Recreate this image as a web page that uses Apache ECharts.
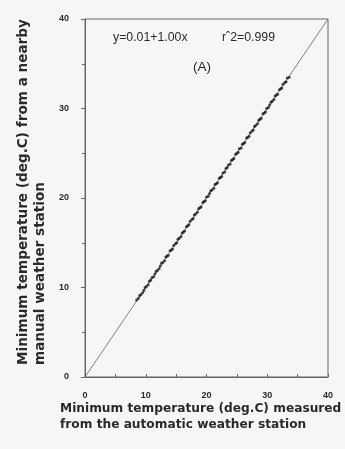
<!DOCTYPE html>
<html><head><meta charset="utf-8">
<script src="https://cdn.jsdelivr.net/npm/echarts@6/dist/echarts.min.js"></script>
<style>html,body{margin:0;padding:0;background:#f6f6f4}#c{width:345px;height:449px}</style>
</head><body><div id="c"></div>
<script>
// Data
const autoTemp = [8.5, 8.8, 9.0, 9.2, 9.5, 9.7, 9.9,
  10.1, 10.4, 10.6, 10.8, 11.0, 11.3, 11.5, 11.7, 11.9, 12.2, 12.4, 12.6, 12.8,
  13.1, 13.3, 13.5, 13.7, 14.0, 14.2, 14.4, 14.6, 14.9, 15.1, 15.3, 15.5, 15.8,
  16.0, 16.2, 16.4, 16.7, 16.9, 17.1, 17.3, 17.6, 17.8, 18.0, 18.2, 18.5, 18.7, 18.9,
  19.1, 19.4, 19.6, 19.8, 20.0, 20.3, 20.5, 20.7, 20.9, 21.2, 21.4, 21.6, 21.8,
  22.1, 22.3, 22.5, 22.7, 23.0, 23.2, 23.4, 23.6, 23.9, 24.1, 24.3, 24.5, 24.8,
  25.0, 25.2, 25.4, 25.7, 25.9, 26.1, 26.3, 26.6, 26.8, 27.0, 27.2, 27.5, 27.7, 27.9,
  28.1, 28.4, 28.6, 28.8, 29.0, 29.3, 29.5, 29.7, 29.9, 30.2, 30.4, 30.6, 30.8,
  31.1, 31.3, 31.5, 31.7, 32.0, 32.2, 32.4, 32.6, 32.9, 33.1, 33.3, 33.6];
const manualTemp = [8.6, 8.8, 9.1, 9.2, 9.4, 9.7, 10.0,
  10.1, 10.3, 10.7, 10.8, 11.1, 11.2, 11.5, 11.8, 11.9, 12.1, 12.4, 12.7, 12.8,
  13.0, 13.4, 13.5, 13.6, 14.1, 14.2, 14.3, 14.7, 14.9, 15.0, 15.4, 15.5, 15.7,
  16.1, 16.2, 16.3, 16.8, 16.9, 17.0, 17.4, 17.6, 17.7, 18.1, 18.2, 18.4, 18.8, 18.9,
  19.0, 19.5, 19.6, 19.7, 20.1, 20.2, 20.5, 20.8, 20.9, 21.1, 21.5, 21.6, 21.7,
  22.2, 22.3, 22.4, 22.8, 22.9, 23.3, 23.4, 23.7, 23.8, 24.2, 24.3, 24.4, 24.9,
  25.0, 25.1, 25.5, 25.6, 26.0, 26.1, 26.2, 26.7, 26.8, 26.9, 27.3, 27.5, 27.6, 28.0,
  28.1, 28.3, 28.7, 28.8, 28.9, 29.4, 29.5, 29.6, 30.0, 30.1, 30.4, 30.7, 30.8,
  31.0, 31.4, 31.5, 31.6, 32.1, 32.2, 32.3, 32.7, 32.9, 33.0, 33.4, 33.5];
const oneToOne = [[0, 0], [40, 40]];
const xTicks = [0, 10, 20, 30, 40];
const yTicks = [0, 10, 20, 30, 40];
const eqText = 'y=0.01+1.00x';
const r2Text = 'r\u02C62=0.999';
const panelText = '(A)';
const xTitle = ['Minimum temperature (deg.C) measured', 'from the automatic weather station'];
const yTitle = ['Minimum temperature (deg.C) from a nearby', 'manual weather station'];

const ink = '#2a2a2a';
const axisCol = '#666';
const chart = echarts.init(document.getElementById('c'), null, {renderer: 'canvas'});
const pts = autoTemp.map((v, i) => [v, manualTemp[i]]);
const xFont = {fontFamily: 'DejaVu Sans', fontSize: 12.2, fontWeight: 'bold', fill: ink};
const yFont = {fontFamily: 'DejaVu Sans', fontSize: 13.6, fontWeight: 'bold', fill: ink};

chart.setOption({
  backgroundColor: '#f6f6f4',
  animation: false,
  grid: {left: 85, right: 17, top: 19, bottom: 72, show: true, borderColor: axisCol, borderWidth: 1, backgroundColor: 'transparent'},
  xAxis: {
    type: 'value', min: xTicks[0], max: xTicks[xTicks.length - 1], interval: 10,
    axisLine: {lineStyle: {color: axisCol, width: 1}},
    axisTick: {inside: true, length: 3, lineStyle: {color: axisCol}},
    minorTick: {show: true, splitNumber: 2, length: 3, lineStyle: {color: axisCol}},
    splitLine: {show: false},
    axisLabel: {margin: 14, color: ink, fontFamily: 'Liberation Sans', fontSize: 9, fontWeight: 'bold',
      formatter: v => xTicks.includes(v) ? String(v) : ''}
  },
  yAxis: {
    type: 'value', min: yTicks[0], max: yTicks[yTicks.length - 1], interval: 10,
    axisLine: {lineStyle: {color: axisCol, width: 1}},
    axisTick: {inside: false, length: 4, lineStyle: {color: axisCol}},
    minorTick: {show: true, splitNumber: 2, length: 3, lineStyle: {color: axisCol}},
    splitLine: {show: false},
    axisLabel: {margin: 16, color: ink, fontFamily: 'Liberation Sans', fontSize: 9, fontWeight: 'bold',
      formatter: v => yTicks.includes(v) ? String(v) : ''}
  },
  series: [
    {type: 'line', data: oneToOne, symbol: 'none', lineStyle: {color: '#666', width: 0.8}, z: 2},
    {type: 'scatter', data: pts, symbol: 'circle', symbolSize: 3, itemStyle: {color: '#1e1e1e'}, z: 3}
  ],
  graphic: [
    {type: 'text', left: 113, top: 32, style: {text: eqText, fontFamily: 'Liberation Sans', fontSize: 12.3, fill: ink}},
    {type: 'text', left: 222, top: 32, style: {text: r2Text, fontFamily: 'Liberation Sans', fontSize: 12.3, fill: ink}},
    {type: 'text', left: 193, top: 60, style: {text: panelText, fontFamily: 'Liberation Sans', fontSize: 13.5, fill: ink}},
    {type: 'text', left: 60, top: 403, style: Object.assign({text: xTitle[0]}, xFont)},
    {type: 'text', left: 60, top: 419, style: Object.assign({text: xTitle[1]}, xFont)},
    {type: 'text', x: 23, y: 365, rotation: Math.PI / 2, style: Object.assign({text: yTitle[0], textAlign: 'left', textVerticalAlign: 'middle'}, yFont)},
    {type: 'text', x: 40, y: 365, rotation: Math.PI / 2, style: Object.assign({text: yTitle[1], textAlign: 'left', textVerticalAlign: 'middle'}, yFont)}
  ]
});
</script></body></html>
